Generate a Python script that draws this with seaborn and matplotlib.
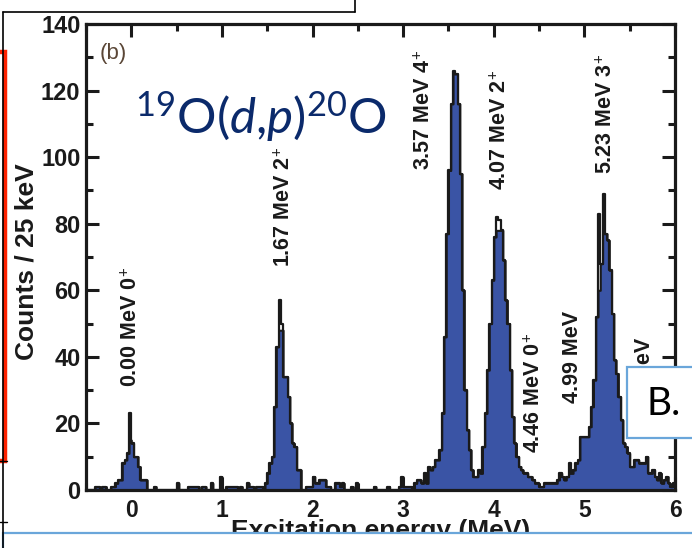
import numpy as np
import matplotlib
matplotlib.use("Agg")
import matplotlib.pyplot as plt
import seaborn as sns
from matplotlib.ticker import MultipleLocator
from matplotlib.patches import Rectangle

# ---------------- data ----------------
e_min = -0.5          # MeV, lower edge of first bin
bin_width = 0.025     # MeV (25 keV)

# counts per 25 keV bin (gated spectrum, blue fill), bins from -0.5 to 6.0 MeV
gated_counts = [
    0, 0, 0, 0, 1, 1, 0, 1, 1, 0,
    0, 1, 1, 2, 3, 3, 8, 9, 11, 15,
    14, 10, 10, 7, 3, 3, 3, 0, 0, 0,
    1, 0, 0, 0, 0, 0, 0, 0, 0, 0,
    2, 0, 0, 0, 0, 1, 1, 1, 1, 1,
    0, 1, 1, 0, 0, 2, 0, 0, 0, 4,
    0, 0, 1, 1, 1, 1, 1, 0, 1, 0,
    0, 2, 1, 1, 0, 1, 1, 1, 0, 2,
    5, 8, 10, 25, 43, 48, 48, 34, 34, 28,
    20, 14, 13, 6, 6, 0, 0, 1, 1, 1,
    4, 2, 2, 3, 3, 3, 1, 1, 0, 0,
    2, 2, 1, 2, 0, 0, 0, 1, 0, 2,
    0, 0, 0, 0, 0, 0, 0, 1, 0, 0,
    0, 0, 0, 1, 0, 0, 0, 0, 1, 4,
    1, 1, 1, 1, 0, 2, 3, 3, 2, 5,
    2, 7, 6, 7, 9, 9, 12, 23, 46, 77,
    96, 116, 125, 125, 116, 95, 60, 30, 18, 12,
    6, 4, 4, 6, 5, 13, 23, 36, 50, 63,
    76, 78, 78, 78, 69, 57, 50, 36, 22, 14,
    10, 7, 6, 5, 5, 4, 4, 3, 2, 2,
    1, 1, 2, 2, 2, 2, 2, 2, 3, 5,
    4, 3, 4, 5, 5, 6, 8, 9, 16, 16,
    16, 16, 19, 25, 33, 52, 60, 68, 77, 77,
    75, 66, 53, 39, 35, 28, 21, 14, 13, 11,
    7, 7, 9, 9, 8, 8, 8, 10, 5, 5,
    6, 4, 3, 5, 2, 3, 4, 2, 1, 2,
]
# bins where the total (black outline) spectrum exceeds the gated one
spike_bins = [19, 85, 86, 162, 181, 182, 213, 226, 228]
spike_totals = [23, 57, 50, 126, 82, 81, 8, 83, 89]

state_labels = ["0.00 MeV 0$^{+}$", "1.67 MeV 2$^{+}$", "3.57 MeV 4$^{+}$",
                "4.07 MeV 2$^{+}$", "5.23 MeV 3$^{+}$", "4.46 MeV 0$^{+}$",
                "4.99 MeV", "5.61 MeV"]
label_x = [0.0, 1.69, 3.24, 4.07, 5.24, 4.45, 4.87, 5.66]
label_y = [31, 67, 96, 90, 95, 11, 26, 18]

x_ticks = [0, 1, 2, 3, 4, 5, 6]
y_ticks = [0, 20, 40, 60, 80, 100, 120, 140]

# ---------------- derived ----------------
gated = np.array(gated_counts, dtype=float)
total = gated.copy()
total[spike_bins] = spike_totals
n_bins = len(gated)
edges = (e_min + bin_width * np.arange(n_bins + 1)).tolist()
centers = [0.5 * (a + b) for a, b in zip(edges[:-1], edges[1:])]

# ---------------- style ----------------
sns.set_theme(style="ticks")
plt.rcParams["font.family"] = ["Liberation Sans", "DejaVu Sans"]
plt.rcParams["mathtext.fontset"] = "custom"
plt.rcParams["mathtext.rm"] = "Lato"
plt.rcParams["mathtext.it"] = "Lato:italic"
plt.rcParams["mathtext.bf"] = "Lato:bold"

W, H = 692, 548
fig = plt.figure(figsize=(W / 100, H / 100), dpi=100)
fig.patch.set_facecolor("white")

ax_l, ax_r, ax_t, ax_b = 86, 675, 24, 490
ax = fig.add_axes([ax_l / W, 1 - ax_b / H, (ax_r - ax_l) / W, (ax_b - ax_t) / H])

blue = "#3A54A5"
sns.histplot(x=centers, weights=gated.tolist(), bins=edges, element="step", fill=True,
             color=blue, edgecolor="#1a1a1a", linewidth=1.5, alpha=1, ax=ax)
sns.histplot(x=centers, weights=total.tolist(), bins=edges, element="step", fill=False,
             color="#1a1a1a", linewidth=1.6, ax=ax)

ax.set_xlim(-0.5, 6.0)
ax.set_ylim(0, 140)
ax.set_xticks(x_ticks)
ax.set_yticks(y_ticks)
ax.xaxis.set_minor_locator(MultipleLocator(0.5))
ax.yaxis.set_minor_locator(MultipleLocator(10))
ax.tick_params(which="both", direction="in", top=True, right=True,
               color="#1a1a1a", width=2.2)
ax.tick_params(which="major", length=9.5)
ax.tick_params(which="minor", length=5)
ax.tick_params(axis="x", which="major", labelsize=16.5, pad=6.5)
ax.tick_params(axis="y", which="major", labelsize=17, pad=4)
for lab in ax.get_xticklabels() + ax.get_yticklabels():
    lab.set_fontweight("bold")
    lab.set_color("#1a1a1a")
for sp in ax.spines.values():
    sp.set_linewidth(2.3)
    sp.set_color("#1a1a1a")

ax.set_xlabel("Excitation energy (MeV)", fontsize=19, fontweight="bold", color="#1a1a1a")
ax.set_ylabel("Counts / 25 keV", fontsize=19, fontweight="bold", color="#1a1a1a")
ax.xaxis.set_label_coords(0.5, -0.062)
ax.yaxis.set_label_coords(-0.08, 0.49)

for s, xx, yy in zip(state_labels, label_x, label_y):
    ax.text(xx, yy, s, rotation=90, ha="center", va="bottom", fontsize=15.5,
            fontweight="bold", color="#1a1a1a")

ax.text(0.04, 107, r"$^{19}$O($d$,$p$)$^{20}$O", fontsize=35.5, color="#0B2A6B",
        family="Lato", ha="left", va="baseline")
ax.text(-0.35, 131, "(b)", fontsize=16, color="#5a4636", ha="left", va="center")

# ---------------- slide decorations (pixel space overlay) ----------------
deco = fig.add_axes([0, 0, 1, 1], zorder=10)
deco.set_xlim(0, W)
deco.set_ylim(H, 0)
deco.axis("off")
deco.patch.set_alpha(0)

deco.plot([3, 355], [12, 12], color="black", lw=1.2)
deco.plot([355, 355], [0, 12], color="black", lw=1.2)
deco.plot([3, 3], [12, H], color="black", lw=1.2)
deco.plot([0, 7], [461, 461], color="black", lw=1.0)
deco.plot([0, 7], [522, 522], color="black", lw=1.0)
deco.add_patch(Rectangle((-30, 52), 35, 409, facecolor="none", edgecolor="#FF2200", lw=3.2))

light_blue = "#6AA6DA"
deco.add_patch(Rectangle((627, 367), 90, 71, facecolor="white", edgecolor=light_blue, lw=1.6))
deco.text(647, 404, "B.", fontsize=28, family="Lato", color="black", ha="left", va="center")
deco.add_patch(Rectangle((3, 533), 720, 40, facecolor="white", edgecolor=light_blue, lw=1.6))

fig.savefig("out.png", dpi=100)
